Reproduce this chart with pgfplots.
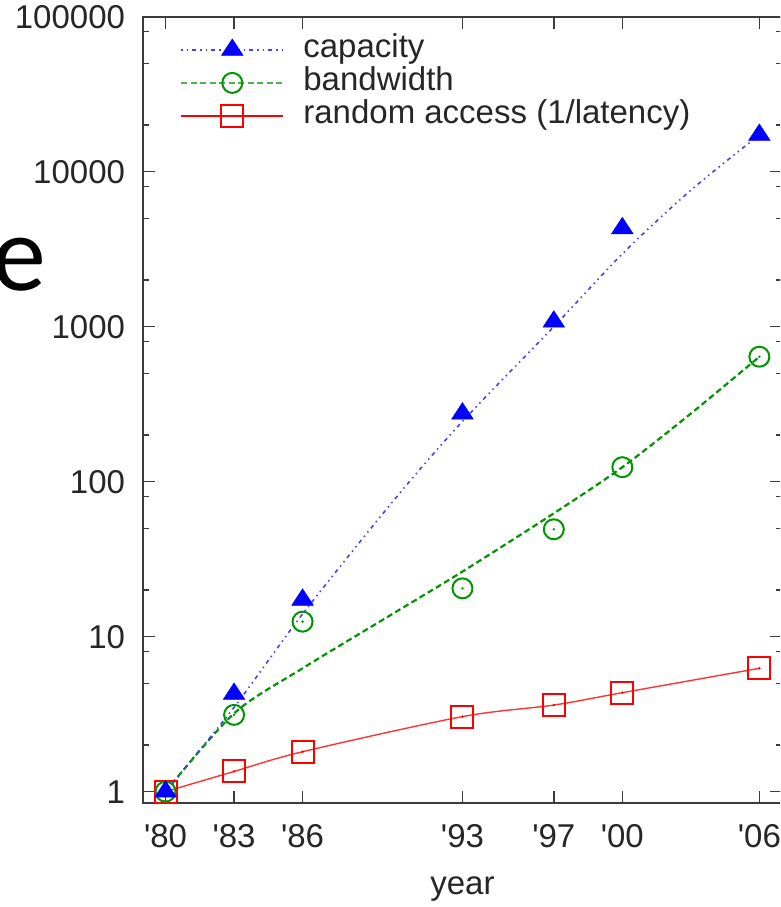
\documentclass[border=0pt]{standalone}
\usepackage{pgfplots}
\usepackage{pgfplotstable}
\pgfplotsset{compat=1.18}
\usepackage{fontspec}
\setmainfont{Liberation Sans}[Ligatures=TeXOff]
\newfontfamily\slidefont{Carlito}
\definecolor{cblue}{RGB}{0,0,255}
\definecolor{cgreen}{RGB}{0,150,0}
\definecolor{cred}{RGB}{255,0,0}
\definecolor{frame}{RGB}{60,60,60}

% marker values
\pgfplotstableread{
year cap bw ra
1980 1 1 1
1983 4.27 3.13 1.35
1986 17.3 12.5 1.81
1993 275 20.5 3.05
1997 1077 49.3 3.62
2000 4315 124 4.35
2006 17260 640 6.25
}\points

% smoothed trend curves
\pgfplotstableread{
year cap bw
1980 1 1
1983 3.5 3.2
1986 14 6.25
1990 76 14.2
1993 245 26.3
1997 1000 62.5
2000 2950 124
2003 7600 275
2006 17260 640
}\curves

\begin{document}
\begin{tikzpicture}
\useasboundingbox (0pt,0pt) rectangle (780pt,907pt);
\clip (0pt,0pt) rectangle (780pt,907pt);
\node[anchor=base east, inner sep=0pt] at (46pt,616pt) {\slidefont\fontsize{108}{108}\selectfont e};
\begin{axis}[
  at={(142.7pt,104pt)}, anchor=south west,
  scale only axis, width=639.5pt, height=786.3pt,
  xmin=1979, xmax=2007,
  ymode=log, ymin=0.845, ymax=100000,
  xtick={1980,1983,1986,1993,1997,2000,2006},
  xticklabels={'80,'83,'86,'93,'97,'00,'06},
  ytick={1,10,100,1000,10000,100000},
  yticklabels={1,10,100,1000,10000,100000},
  minor ytick={2,5,8,20,50,80,200,500,800,2000,5000,8000,20000,50000,80000},
  /pgf/number format/assume math mode=true,
  tick align=inside,
  major tick length=12pt, minor tick length=6pt,
  tick style={line width=1.5pt, draw=frame},
  minor tick style={line width=1.5pt, draw=frame},
  axis line style={line width=2pt, draw=frame},
  tick label style={font=\fontsize{33}{36}\selectfont, text=black!85, inner sep=0pt},
  yticklabel style={anchor=east, xshift=-17.5pt},
  xticklabel style={anchor=north, yshift=-21pt},
  xlabel={year},
  xlabel style={font=\fontsize{33}{36}\selectfont, text=black!85, inner sep=0pt, anchor=north, at={(axis description cs:0.5,0)}, yshift=-74pt},
  legend style={at={(axis description cs:0.0583,0.979)}, anchor=north west, draw=none, fill=none,
    inner sep=0pt, row sep=0pt, column sep=19pt, font=\fontsize{33}{36}\selectfont,
    text=black!85, nodes={text height=24pt, text depth=9pt, inner sep=0pt}},
  legend cell align=left,
  legend image code/.code={\draw[mark repeat=2,mark phase=2,#1] plot coordinates {(0pt,0pt) (51pt,0pt) (102pt,0pt)};},
]
\addlegendimage{cblue!75, line width=1.6pt, dash pattern=on 1.5pt off 4pt on 1.5pt off 4pt on 4pt off 4pt,
  mark=triangle*, mark size=12.5pt, mark options={solid, fill=cblue, draw=cblue, line width=0.5pt, yscale=0.88}}
\addlegendentry{capacity}
\addlegendimage{cgreen!70, line width=2.2pt, dash pattern=on 6pt off 3.5pt,
  mark=o, mark size=10pt, mark options={solid, draw=cgreen, line width=2pt}}
\addlegendentry{bandwidth}
\addlegendimage{cred, line width=1.4pt,
  mark=square, mark size=11pt, mark options={solid, draw=cred, line width=2pt}}
\addlegendentry{random access (1/latency)}

% lines
\addplot[forget plot, smooth, cred!80, line width=1.4pt, mark=none] table[x=year,y=ra]{\points};
\addplot[forget plot, smooth, cgreen, line width=2.2pt, dash pattern=on 6pt off 3.5pt, mark=none] table[x=year,y=bw]{\curves};
\addplot[forget plot, smooth, cblue!75, line width=1.6pt, dash pattern=on 1.5pt off 4pt on 1.5pt off 4pt on 4pt off 4pt, mark=none] table[x=year,y=cap]{\curves};

% markers
\addplot[forget plot, only marks, mark=square, mark size=11pt, mark options={draw=cred, line width=2pt}] table[x=year,y=ra]{\points};
\addplot[forget plot, only marks, mark=*, mark size=1pt, mark options={draw=cred, fill=cred}] table[x=year,y=ra]{\points};
\addplot[forget plot, only marks, mark=o, mark size=10pt, mark options={draw=cgreen, line width=2pt}] table[x=year,y=bw]{\points};
\addplot[forget plot, only marks, mark=*, mark size=1pt, mark options={draw=cgreen, fill=cgreen}] table[x=year,y=bw]{\points};
\addplot[forget plot, only marks, mark=triangle*, mark size=12.5pt, mark options={fill=cblue, draw=cblue, line width=0.5pt, yscale=0.88}] table[x=year,y=cap]{\points};
\end{axis}
\end{tikzpicture}
\end{document}
